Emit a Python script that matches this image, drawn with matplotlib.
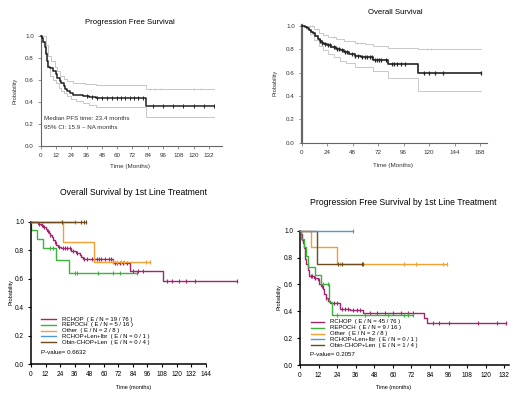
import numpy as np
import matplotlib
matplotlib.use("Agg")
import matplotlib.pyplot as plt
from matplotlib.lines import Line2D

plt.rcParams['font.family'] = ['Liberation Sans', 'DejaVu Sans']

W, H = 520, 397

# ---------------- Panel A: Progression Free Survival ----------------
pfs_t = [0, 1, 2, 3, 4, 5, 6, 7, 10, 12, 13, 15, 16, 18, 19, 21, 23, 25, 33, 38, 43, 83]
pfs_s = [1.0, 0.98, 0.95, 0.90, 0.84, 0.77, 0.72, 0.705, 0.68, 0.65, 0.62, 0.59, 0.57, 0.54, 0.52, 0.50, 0.48, 0.465, 0.45, 0.445, 0.438, 0.365]
pfs_end = 136
pfs_hi_t = [0, 2, 4, 6, 8, 11, 13, 15, 18, 21, 25, 35, 43, 83]
pfs_hi_s = [1.0, 1.0, 0.92, 0.82, 0.77, 0.72, 0.68, 0.64, 0.61, 0.59, 0.575, 0.565, 0.553, 0.514]
pfs_lo_t = [0, 1, 3, 5, 7, 10, 12, 14, 16, 18, 21, 24, 28, 33, 38, 43, 83]
pfs_lo_s = [1.0, 0.95, 0.85, 0.72, 0.64, 0.60, 0.57, 0.53, 0.50, 0.48, 0.45, 0.43, 0.41, 0.39, 0.37, 0.355, 0.264]
pfs_cens = [36, 40, 44, 48, 52, 56, 60, 63, 66, 70, 73, 76, 80, 88, 96, 104, 112, 120, 128, 136]
pfs_ci_cens = [86, 90, 94, 120, 126]

# ---------------- Panel B: Overall Survival ----------------
os_t = [0, 3, 5, 7, 9, 11, 13, 15, 17, 19, 21, 24, 28, 32, 36, 40, 45, 50, 56, 67, 81, 110]
os_s = [1.0, 0.99, 0.98, 0.965, 0.95, 0.935, 0.91, 0.89, 0.87, 0.855, 0.845, 0.835, 0.82, 0.805, 0.79, 0.775, 0.76, 0.745, 0.735, 0.71, 0.67, 0.595]
os_end = 169
os_hi_t = [0, 8, 12, 16, 20, 25, 32, 40, 50, 60, 67, 81, 110]
os_hi_s = [1.0, 1.0, 0.97, 0.94, 0.92, 0.90, 0.885, 0.87, 0.855, 0.84, 0.825, 0.81, 0.797]
os_lo_t = [0, 4, 8, 12, 16, 20, 25, 30, 36, 42, 50, 67, 81, 110]
os_lo_s = [1.0, 0.97, 0.93, 0.88, 0.83, 0.79, 0.76, 0.73, 0.70, 0.68, 0.65, 0.613, 0.55, 0.44]
os_cens = [17, 19, 22, 25, 27, 30, 33, 35, 38, 41, 43, 47, 50, 53, 57, 60, 62, 64, 66, 69,
           71, 73, 75, 79, 85, 87, 90, 94, 97, 115, 120, 126, 133, 169]
os_ci_cens = [8, 10, 14, 30, 52, 56, 118, 122]

# ---------------- Panel C: OS by 1st line treatment ----------------
groups = ["RCHOP", "REPOCH", "Other", "RCHOP+Len+Ibr", "Obin-CHOP+Len"]
colors = ["#a3246f", "#3cb43c", "#f2a035", "#4d9bd6", "#6e4a1c"]
os_labels = ["RCHOP  ( E / N = 19 / 76 )", "REPOCH  ( E / N = 5 / 16 )", "Other  ( E / N = 2 / 8 )",
             "RCHOP+Len+Ibr  ( E / N = 0 / 1 )", "Obin-CHOP+Len  ( E / N = 0 / 4 )"]
os_pvalue = "P-value= 0.6632"

c_rchop_t = [0, 6, 8, 10, 12, 13.5, 15, 16, 17.3, 18.5, 19.5, 21, 22.3, 25, 33, 37.4, 40, 41.5, 43, 67.6, 81.3, 109]
c_rchop_s = [1.0, 0.987, 0.974, 0.96, 0.947, 0.934, 0.92, 0.906, 0.89, 0.873, 0.857, 0.84, 0.826, 0.813, 0.797, 0.78, 0.765, 0.752, 0.738, 0.71, 0.657, 0.585]
c_rchop_end = 169.5
c_rchop_cens = [7, 9, 11, 14, 16, 20, 23, 26, 28, 30, 32, 35, 38, 44, 46, 50, 54, 56, 58, 61, 64, 66,
                69, 71, 73, 76, 79, 84, 88, 92, 112, 116, 122, 128, 135, 169.5]
c_repoch_t = [0, 0.4, 5.2, 10.2, 20.9, 31]
c_repoch_s = [1.0, 0.94, 0.877, 0.813, 0.73, 0.638]
c_repoch_end = 87.4
c_repoch_cens = [15.5, 18, 36, 38, 55.5, 67.8, 73.3, 87.4]
c_other_t = [0, 26.4, 51.7]
c_other_s = [1.0, 0.857, 0.714]
c_other_end = 97.8
c_other_cens = [25.8, 68, 71, 74, 77, 95, 97.8]
c_ibr_t = [0]
c_ibr_s = [1.0]
c_ibr_end = 36
c_ibr_cens = [36]
c_obin_t = [0]
c_obin_s = [1.0]
c_obin_end = 45.6
c_obin_cens = [25.8, 41.6, 43.8, 45.6]

# ---------------- Panel D: PFS by 1st line treatment ----------------
pfs_labels = ["RCHOP  ( E / N = 45 / 76 )", "REPOCH  ( E / N = 9 / 16 )", "Other  ( E / N = 2 / 8 )",
              "RCHOP+Len+Ibr  ( E / N = 0 / 1 )", "Obin-CHOP+Len  ( E / N = 1 / 4 )"]
pfs_pvalue = "P-value= 0.2057"

d_rchop_t = [0, 0.3, 0.7, 1, 1.5, 2, 2.5, 3, 3.5, 4, 5, 6, 9.3, 11.4, 12.5, 13.5, 14.6, 15.7, 16.8, 18, 19.2, 25.8, 32.3, 41, 80, 82]
d_rchop_s = [1.0, 0.987, 0.974, 0.96, 0.934, 0.908, 0.87, 0.83, 0.79, 0.75, 0.71, 0.66, 0.645, 0.63, 0.605, 0.59, 0.565, 0.53, 0.50, 0.48, 0.46, 0.42, 0.41, 0.385, 0.35, 0.31]
d_rchop_end = 133
d_rchop_cens = [7, 8, 10, 12, 14, 17, 22, 24, 27, 29, 31, 34, 37, 39, 45, 50, 55, 60, 65, 70, 73,
                86, 90, 96, 115, 127, 133]
d_repoch_t = [0, 0.8, 2.5, 4, 5, 9.5, 13.5, 19, 20.5]
d_repoch_s = [1.0, 0.9375, 0.875, 0.8125, 0.73, 0.67, 0.60, 0.47, 0.375]
d_repoch_end = 73
d_repoch_cens = [15, 18, 24, 42, 57, 67, 70, 73]
d_other_t = [0, 6.9, 23.7]
d_other_s = [1.0, 0.875, 0.75]
d_other_end = 94.7
d_other_cens = [25.8, 67, 75, 92.6, 94.7]
d_ibr_t = [0]
d_ibr_s = [1.0]
d_ibr_end = 34.5
d_ibr_cens = [34.5]
d_obin_t = [0, 11.3]
d_obin_s = [1.0, 0.75]
d_obin_end = 40.5
d_obin_cens = [24.8, 27, 40, 40.5]

prob_ticks = [0.0, 0.2, 0.4, 0.6, 0.8, 1.0]


def surv_at(t, s, x):
    i = np.searchsorted(np.asarray(t, float), np.asarray(x, float), side='right') - 1
    return np.asarray(s)[i]


def km(ax, t, s, end, cens, color, lw, ms=3.0, mew=0.7, z=2):
    tt = list(t) + [end]
    ss = list(s) + [s[-1]]
    ax.step(tt, ss, where='post', color=color, lw=lw, zorder=z, clip_on=False)
    if cens:
        ax.plot(cens, surv_at(t, s, cens), ls='none', marker='|', ms=ms, mew=mew,
                color=color, zorder=z, clip_on=False)


def fig_ax(fig, x0, x1, ytop, ybot):
    return fig.add_axes([x0 / W, 1 - ybot / H, (x1 - x0) / W, (ybot - ytop) / H])


fig = plt.figure(figsize=(W / 100, H / 100), dpi=100)

# ---- Panel A ----
axA = fig_ax(fig, 40.7, 221.7, 34.7, 145.7)
km(axA, pfs_hi_t, pfs_hi_s, pfs_end, pfs_ci_cens, '#bdbdbd', 0.6, ms=2, mew=0.5)
km(axA, pfs_lo_t, pfs_lo_s, pfs_end, [], '#bdbdbd', 0.6)
km(axA, pfs_t, pfs_s, pfs_end, pfs_cens, '#222222', 1.1, ms=2.4, mew=0.7, z=3)
axA.set_xlim(0, 142)
axA.set_ylim(0, 1.012)
axA.set_xticks(np.arange(0, 133, 12))
axA.set_yticks(prob_ticks)
axA.set_yticklabels([f"{v:.1f}" for v in prob_ticks])
axA.text(2.8, 0.248, "Median PFS time: 23.4 months", fontsize=4.5, va='center', color='#333333')
axA.text(2.8, 0.168, "95% CI: 15.9 ~ NA months", fontsize=4.5, va='center', color='#333333')

# ---- Panel B ----
axB = fig_ax(fig, 301.7, 487, 25, 142.7)
km(axB, os_hi_t, os_hi_s, os_end, os_ci_cens, '#c0c0c0', 0.6, ms=2, mew=0.5)
km(axB, os_lo_t, os_lo_s, os_end, [], '#c0c0c0', 0.6)
km(axB, os_t, os_s, os_end, os_cens, '#222222', 1.2, ms=2.6, mew=0.9, z=3)
axB.set_xlim(0, 174.6)
axB.set_ylim(0, 1.006)
axB.set_xticks(np.arange(0, 169, 24))
axB.set_yticks(prob_ticks)
axB.set_yticklabels([f"{v:.1f}" for v in prob_ticks])

for ax in (axA, axB):
    for sp in ('top', 'right'):
        ax.spines[sp].set_visible(False)
    ax.spines['bottom'].set_color('#666666')
    ax.spines['left'].set_color('#666666')
    ax.spines['bottom'].set_linewidth(0.8)
    ax.tick_params(axis='both', length=2, width=0.5, color='#666666', labelsize=4.5,
                   labelcolor='#333333', pad=3)
axA.spines['left'].set_linewidth(0.8)
axB.spines['left'].set_linewidth(1.6)

fig.text(130 / W, 1 - 22.7 / H, "Progression Free Survival", ha='center', va='center', fontsize=5.6)
fig.text(395 / W, 1 - 12.3 / H, "Overall Survival", ha='center', va='center', fontsize=5.6)
fig.text(130 / W, 1 - 166.7 / H, "Time (Months)", ha='center', va='center', fontsize=4.5, color='#333333')
fig.text(393 / W, 1 - 165.7 / H, "Time (Months)", ha='center', va='center', fontsize=4.5, color='#333333')
fig.text(15 / W, 1 - 90.7 / H, "Probability", ha='center', va='center', rotation=90, fontsize=4.1, color='#333333')
fig.text(275 / W, 1 - 82.7 / H, "Probability", ha='center', va='center', rotation=90, fontsize=4.1, color='#333333')

# ---- Panel C ----
axC = fig_ax(fig, 31, 31 + 172 * 1.213, 364.3 - 1.01 * 142.6, 364.3)
c_series = [(c_repoch_t, c_repoch_s, c_repoch_end, c_repoch_cens, 1),
            (c_ibr_t, c_ibr_s, c_ibr_end, c_ibr_cens, 3),
            (c_rchop_t, c_rchop_s, c_rchop_end, c_rchop_cens, 0),
            (c_other_t, c_other_s, c_other_end, c_other_cens, 2),
            (c_obin_t, c_obin_s, c_obin_end, c_obin_cens, 4)]
for i, (t, s, e, cz, gi) in enumerate(c_series):
    km(axC, t, s, e, cz, colors[gi], 1.0, ms=3.0, mew=0.8, z=2 + i)
axC.set_xlim(0, 172)
axC.set_ylim(0, 1.01)
axC.set_xticks(np.arange(0, 145, 12))
axC.spines['bottom'].set_bounds(0, 144)

# ---- Panel D ----
axD = fig_ax(fig, 300, 300 + 135 * 1.548, 365 - 1.01 * 134.3, 365)
d_series = [(d_rchop_t, d_rchop_s, d_rchop_end, d_rchop_cens, 0),
            (d_repoch_t, d_repoch_s, d_repoch_end, d_repoch_cens, 1),
            (d_other_t, d_other_s, d_other_end, d_other_cens, 2),
            (d_obin_t, d_obin_s, d_obin_end, d_obin_cens, 4),
            (d_ibr_t, d_ibr_s, d_ibr_end, d_ibr_cens, 3)]
for i, (t, s, e, cz, gi) in enumerate(d_series):
    km(axD, t, s, e, cz, colors[gi], 1.0, ms=3.0, mew=0.8, z=2 + i)
axD.set_xlim(0, 135)
axD.set_ylim(0, 1.01)
axD.set_xticks(np.arange(0, 133, 12))

for ax in (axC, axD):
    for sp in ('top', 'right'):
        ax.spines[sp].set_visible(False)
    ax.spines['bottom'].set_linewidth(1.1)
    ax.spines['left'].set_linewidth(1.1)
    ax.spines['left'].set_bounds(0, 1.0)
    ax.set_yticks(prob_ticks)
    ax.set_yticklabels([f"{v:.1f}" for v in prob_ticks])
    ax.tick_params(axis='both', length=2.5, width=0.8, labelsize=4.7, pad=2.5)

fig.text(133 / W, 1 - 192 / H, "Overall Survival by 1st Line Treatment", ha='center', va='center', fontsize=6.2)
fig.text(403 / W, 1 - 202 / H, "Progression Free Survival by 1st Line Treatment", ha='center', va='center', fontsize=6.2)
fig.text(134 / W, 1 - 387.7 / H, "Time (months)", ha='center', va='center', fontsize=4.0)
fig.text(394 / W, 1 - 387.7 / H, "Time (months)", ha='center', va='center', fontsize=4.0)
fig.text(11 / W, 1 - 291.7 / H, "Probability", ha='center', va='center', rotation=90, fontsize=4.0)
fig.text(279 / W, 1 - 296.7 / H, "Probability", ha='center', va='center', rotation=90, fontsize=4.0)


def legend(x_line0, x_line1, x_text, y0, dy, labels, pval, y_p):
    for k, (lab, col) in enumerate(zip(labels, colors)):
        y = 1 - (y0 + k * dy) / H
        fig.add_artist(Line2D([x_line0 / W, x_line1 / W], [y, y], color=col, lw=1.0,
                              transform=fig.transFigure))
        fig.text(x_text / W, y, lab, ha='left', va='center', fontsize=4.3)
    fig.text(x_line0 / W, 1 - y_p / H, pval, ha='left', va='center', fontsize=4.4)


legend(41, 55.5, 61.5, 319.0, 5.8, os_labels, os_pvalue, 353.0)
legend(310.5, 323.5, 329.5, 322.0, 5.8, pfs_labels, pfs_pvalue, 355.0)

fig.savefig("out.png", dpi=100)
